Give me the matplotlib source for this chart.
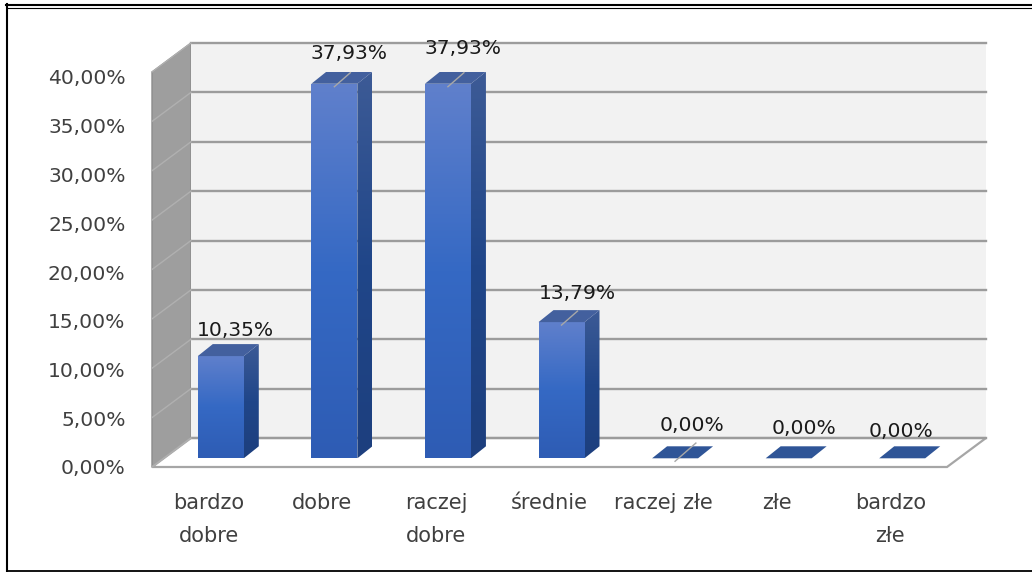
import numpy as np
import matplotlib.pyplot as plt
from matplotlib.colors import LinearSegmentedColormap
from matplotlib.lines import Line2D
from matplotlib.patches import Polygon

categories = ['bardzo\ndobre', 'dobre', 'raczej\ndobre', 'średnie', 'raczej złe', 'złe', 'bardzo\nzłe']
values = [10.35, 37.93, 37.93, 13.79, 0.0, 0.0, 0.0]
y_ticks = [0, 5, 10, 15, 20, 25, 30, 35, 40]

# label nudges in pixels, the original labels were moved by hand
label_dx = [15, 15, 15, 16, 17, 15, -1]
label_dy = [26, 30, 35, 29, 33, 30, 27]
leader_scale = [0, 1, 1, 1, 1.3, 0, 0]

W, H = 1032, 572
fig = plt.figure(figsize=(W / 100, H / 100), dpi=100, facecolor='white')
plt.rcParams['font.family'] = 'DejaVu Sans'

# axes = front plane of the fake 3D box
left, right, bottom, top = 152, 947, 467, 72
ax = fig.add_axes([left / W, 1 - bottom / H, (right - left) / W, (bottom - top) / H])
ax.set_xlim(-0.5, 6.5)
ax.set_ylim(0, 40)
ax.patch.set_visible(False)
for s in ax.spines.values():
    s.set_visible(False)

px_x = 7 / (right - left)   # data units per pixel
px_y = 40 / (bottom - top)

# box depth
box_dx = 39 * px_x
box_dy = 29 * px_y

# left wall, back wall, floor
ax.add_patch(Polygon([(-0.5, 0), (-0.5 + box_dx, box_dy), (-0.5 + box_dx, 40 + box_dy), (-0.5, 40)],
                     fc='#9e9e9e', ec='#8c8c8c', lw=1, clip_on=False, zorder=1))
ax.add_patch(Polygon([(-0.5 + box_dx, box_dy), (6.5 + box_dx, box_dy), (6.5 + box_dx, 40 + box_dy), (-0.5 + box_dx, 40 + box_dy)],
                     fc='#f2f2f2', ec='none', clip_on=False, zorder=1))
ax.add_patch(Polygon([(-0.5, 0), (6.5, 0), (6.5 + box_dx, box_dy), (-0.5 + box_dx, box_dy)],
                     fc='white', ec='#a6a6a6', lw=1.6, clip_on=False, zorder=2))

for t in y_ticks:
    ax.plot([-0.5 + box_dx, 6.5 + box_dx], [t + box_dy, t + box_dy], color='#9c9c9c', lw=1.7, clip_on=False, zorder=2)
    ax.plot([-0.5, -0.5 + box_dx], [t, t + box_dy], color='#b0b0b0', lw=1, clip_on=False, zorder=2)

# bars
front_cmap = LinearSegmentedColormap.from_list('front', [(0, '#6080cc'), (0.5, '#3569c4'), (1, '#2e5cb4')])
side_cmap = LinearSegmentedColormap.from_list('side', [(0, '#3d5b96'), (0.5, '#204689'), (1, '#1d3f7e')])
grad = np.linspace(0, 1, 256).reshape(-1, 1)

bar_w = 46 * px_x
bar_dx = 15 * px_x
bar_dy = 12 * px_y
shift_x = 12 * px_x
base = 8.7 * px_y

for i, v in enumerate(values):
    x0 = i + shift_x - bar_w / 2
    x1 = x0 + bar_w
    y1 = base + v
    if v > 0:
        front = Polygon([(x0, base), (x1, base), (x1, y1), (x0, y1)], fc='none', ec='none', transform=ax.transData)
        side = Polygon([(x1, base), (x1 + bar_dx, base + bar_dy), (x1 + bar_dx, y1 + bar_dy), (x1, y1)],
                       fc='none', ec='none', transform=ax.transData)
        ax.add_patch(front)
        ax.add_patch(side)
        im = ax.imshow(grad, cmap=front_cmap, extent=(x0, x1, base, y1), aspect='auto', origin='upper', zorder=3)
        im.set_clip_path(front)
        im = ax.imshow(grad, cmap=side_cmap, extent=(x1, x1 + bar_dx, base, y1 + bar_dy), aspect='auto', origin='upper', zorder=3)
        im.set_clip_path(side)
        top_color = '#43609e'
    else:
        top_color = '#2f5597'
    ax.add_patch(Polygon([(x0, y1), (x1, y1), (x1 + bar_dx, y1 + bar_dy), (x0 + bar_dx, y1 + bar_dy)],
                         fc=top_color, ec='none', zorder=3))

    cx = (x0 + x1) / 2
    if leader_scale[i] > 0:
        s = leader_scale[i]
        ax.plot([cx, cx + 16 * s * px_x], [y1 - 0.3, y1 - 0.3 + 14 * s * px_y], color='#a8a8a8', lw=1, zorder=4, clip_on=False)
    ax.text(cx + label_dx[i] * px_x, y1 + label_dy[i] * px_y, f'{v:.2f}%'.replace('.', ','),
            ha='center', va='center', fontsize=14.6, color='#1a1a1a', zorder=5, clip_on=False)

ax.set_xlim(-0.5, 6.5)
ax.set_ylim(0, 40)

# y labels sit a bit tighter than the gridlines in the original
ax.set_yticks([t * 390 / 395 for t in y_ticks])
ax.set_yticklabels([f'{t:.2f}%'.replace('.', ',') for t in y_ticks])
ax.set_xticks(range(len(categories)))
ax.set_xticklabels(categories)
ax.tick_params(axis='y', length=0, pad=19, labelsize=14.6, labelcolor='#404040')
ax.tick_params(axis='x', length=0, pad=19, labelsize=15, labelcolor='#404040')
for lab in ax.get_xticklabels():
    lab.set_linespacing(1.77)

# frame round the screenshot
frame = [([6, W], [4.5, 4.5], 1.5), ([7, W], [7.5, 7.5], 0.8), ([7, 7], [4, 571], 1.5), ([7, W], [570.5, 570.5], 1.3)]
for xs, ys, lw in frame:
    fig.add_artist(Line2D([x / W for x in xs], [1 - y / H for y in ys], color='black', lw=lw,
                          transform=fig.transFigure))

fig.savefig('out.png', dpi=100)
